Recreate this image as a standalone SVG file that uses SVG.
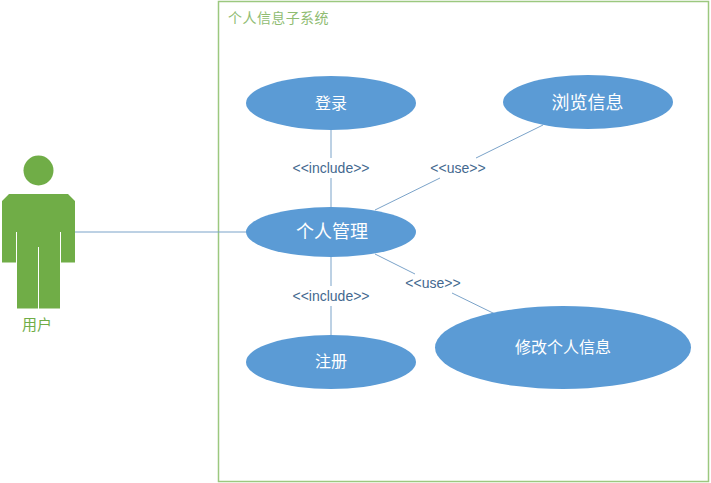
<svg xmlns="http://www.w3.org/2000/svg" width="711" height="483" viewBox="0 0 711 483">
<style>
text{font-family:"Noto Sans CJK SC","Liberation Sans",sans-serif;text-anchor:middle}
.e{fill:#5b9bd5}
.w{fill:#fff}
.c{stroke:#7ba3c9;stroke-width:1;fill:none}
.l{fill:#44698f;font-size:14px;font-family:"Liberation Sans","Noto Sans",sans-serif}
.g{fill:#70ad47}
</style>
<rect width="711" height="483" fill="#fff"/>
<g id="system">
<rect x="218.500" y="1.500" width="490" height="480" fill="none" stroke="#9cc87f" stroke-width="1.500"/>
<text x="278.500" y="23" font-size="14" fill="#8fbc72" letter-spacing="0.400">个人信息子系统</text>
</g>
<g id="connectors">
<path class="c" d="M75 232H247M331 130V158M331 178V208M331 257V286M331 306V335M375 210L440 178M476 158L543 125M375 254L415 274M452 293L495 314"/>
</g>
<g id="actor">
<circle class="g" cx="38.500" cy="170.500" r="15"/>
<path class="g" d="M9 194H68L75 201V262.500H61V232H60V308.500H39V247H38V308.500H17V232H16V262.500H2V201Z"/>
<text x="37" y="330" font-size="15" fill="#70ad47">用户</text>
</g>
<g id="login"><ellipse class="e" cx="331" cy="103" rx="85" ry="27"/><text class="w" x="331" y="109" font-size="16">登录</text></g>
<g id="browse"><ellipse class="e" cx="588" cy="102" rx="85" ry="27"/><text class="w" x="587.500" y="109" font-size="18">浏览信息</text></g>
<g id="manage"><ellipse class="e" cx="331" cy="232" rx="85" ry="25"/><text class="w" x="332" y="238" font-size="18">个人管理</text></g>
<g id="register"><ellipse class="e" cx="331" cy="362" rx="85" ry="27"/><text class="w" x="331" y="367" font-size="16">注册</text></g>
<g id="edit"><ellipse class="e" cx="563" cy="347.500" rx="128" ry="41.500"/><text class="w" x="563" y="353" font-size="16">修改个人信息</text></g>
<g id="labels">
<text class="l" x="331" y="173">&lt;&lt;include&gt;&gt;</text>
<text class="l" x="458" y="173">&lt;&lt;use&gt;&gt;</text>
<text class="l" x="433" y="288">&lt;&lt;use&gt;&gt;</text>
<text class="l" x="331" y="301">&lt;&lt;include&gt;&gt;</text>
</g>
</svg>
